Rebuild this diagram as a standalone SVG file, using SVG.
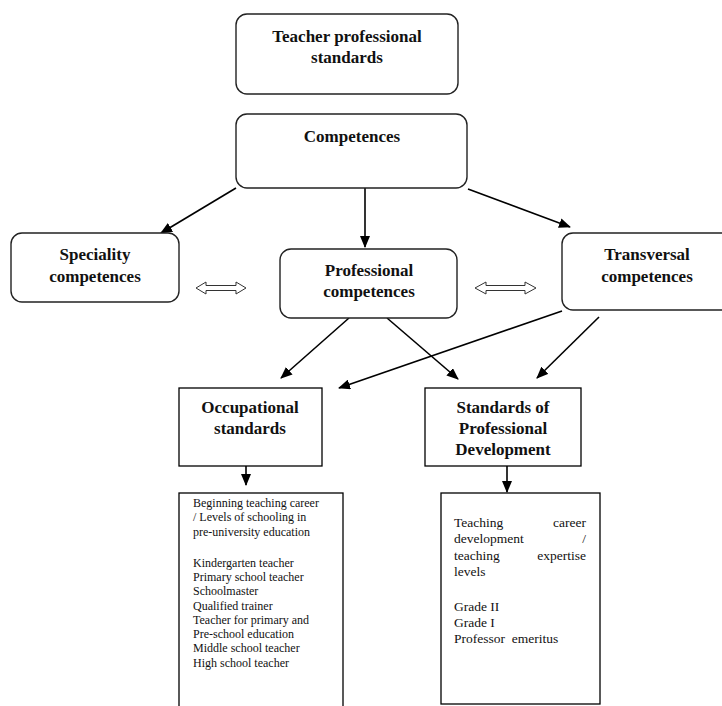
<svg xmlns="http://www.w3.org/2000/svg" width="722" height="706" viewBox="0 0 722 706">
<defs>
<marker id="ah" markerWidth="12" markerHeight="10" refX="11" refY="5" orient="auto" markerUnits="userSpaceOnUse">
<path d="M0,0 L12,5 L0,10 z" fill="#000"/>
</marker>
<style>
.rr{fill:#fff;stroke:#222;stroke-width:1.4}
.bx{fill:#fff;stroke:#000;stroke-width:1.3}
.h{font-family:"Liberation Serif",serif;font-weight:bold;font-size:17px;text-anchor:middle;fill:#111}
.t{font-family:"Liberation Serif",serif;font-size:12px;fill:#111}
.t2{font-family:"Liberation Serif",serif;font-size:13.5px;fill:#111}
.c{stroke:#000;stroke-width:1.6;fill:none;marker-end:url(#ah)}
.da{fill:#fff;stroke:#333;stroke-width:1}
</style>
</defs>
<rect width="722" height="706" fill="#fff"/>
<g id="connectors">
<line class="c" x1="236" y1="188" x2="161" y2="233"/>
<line class="c" x1="365" y1="188" x2="365" y2="247"/>
<line class="c" x1="468" y1="189" x2="570" y2="227"/>
<line class="c" x1="349" y1="318" x2="281" y2="378"/>
<line class="c" x1="387" y1="318" x2="458" y2="379"/>
<line class="c" x1="562" y1="311" x2="339" y2="388"/>
<line class="c" x1="599" y1="317" x2="537" y2="378"/>
<line class="c" x1="246" y1="466" x2="246" y2="485"/>
<line class="c" x1="507" y1="466" x2="507" y2="492"/>
<path class="da" d="M196,288 L206,282 L206,285.5 L236,285.5 L236,282 L246,288 L236,294 L236,290.5 L206,290.5 L206,294 Z"/>
<path class="da" d="M475,288 L486,282 L486,285.5 L525,285.5 L525,282 L536,288 L525,294 L525,290.5 L486,290.5 L486,294 Z"/>
</g>
<g id="teacher-professional-standards">
<rect class="rr" x="236" y="14" width="222" height="80" rx="11"/>
<text class="h" x="347" y="42">Teacher professional</text>
<text class="h" x="347" y="63">standards</text>
</g>
<g id="competences">
<rect class="rr" x="236" y="114" width="231" height="74" rx="11"/>
<text class="h" x="352" y="142">Competences</text>
</g>
<g id="speciality-competences">
<rect class="rr" x="11" y="233" width="168" height="69" rx="11"/>
<text class="h" x="95" y="260">Speciality</text>
<text class="h" x="95" y="282">competences</text>
</g>
<g id="professional-competences">
<rect class="rr" x="280" y="249" width="177" height="69" rx="11"/>
<text class="h" x="369" y="276">Professional</text>
<text class="h" x="369" y="297">competences</text>
</g>
<g id="transversal-competences">
<rect class="rr" x="562" y="233" width="175" height="77" rx="11"/>
<text class="h" x="647" y="260">Transversal</text>
<text class="h" x="647" y="282">competences</text>
</g>
<g id="occupational-standards">
<rect class="bx" x="179" y="388" width="143" height="78"/>
<text class="h" x="250" y="413">Occupational</text>
<text class="h" x="250" y="434">standards</text>
</g>
<g id="standards-professional-development">
<rect class="bx" x="425" y="388" width="156" height="78"/>
<text class="h" x="503" y="413">Standards of</text>
<text class="h" x="503" y="434">Professional</text>
<text class="h" x="503" y="455">Development</text>
</g>
<g id="occupational-list">
<rect class="bx" x="179" y="493" width="164" height="220"/>
<text class="t" x="193" y="507">Beginning teaching career</text>
<text class="t" x="193" y="521">/ Levels of schooling in</text>
<text class="t" x="193" y="536">pre-university education</text>
<text class="t" x="193" y="567">Kindergarten teacher</text>
<text class="t" x="193" y="581">Primary school teacher</text>
<text class="t" x="193" y="595">Schoolmaster</text>
<text class="t" x="193" y="610">Qualified trainer</text>
<text class="t" x="193" y="624">Teacher for primary and</text>
<text class="t" x="193" y="638">Pre-school education</text>
<text class="t" x="193" y="652">Middle school teacher</text>
<text class="t" x="193" y="667">High school teacher</text>
</g>
<g id="development-list">
<rect class="bx" x="441" y="493" width="159" height="211"/>
<text class="t2" x="454" y="527">Teaching</text>
<text class="t2" x="586" y="527" text-anchor="end">career</text>
<text class="t2" x="454" y="543">development</text>
<text class="t2" x="586" y="543" text-anchor="end">/</text>
<text class="t2" x="454" y="560">teaching</text>
<text class="t2" x="586" y="560" text-anchor="end">expertise</text>
<text class="t2" x="454" y="576">levels</text>
<text class="t2" x="454" y="611">Grade II</text>
<text class="t2" x="454" y="627">Grade I</text>
<text class="t2" x="454" y="643" xml:space="preserve">Professor  emeritus</text>
</g>
</svg>
